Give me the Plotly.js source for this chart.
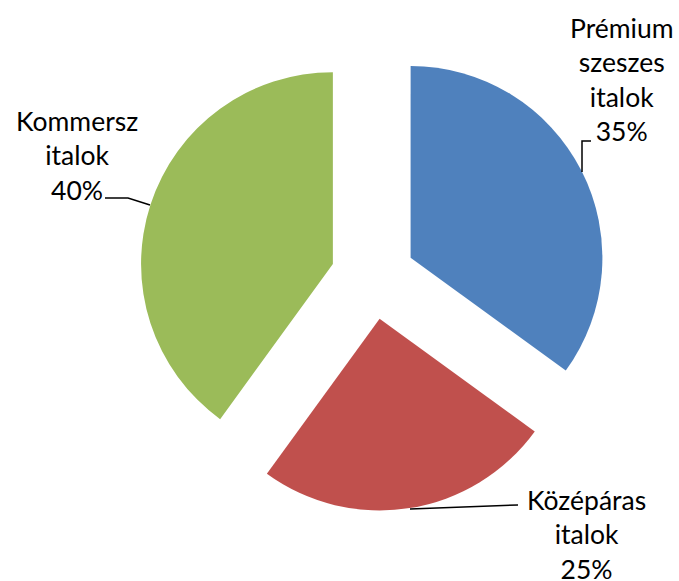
<!DOCTYPE html>
<html>
<head>
<meta charset="utf-8">
<script src="https://cdn.plot.ly/plotly-3.0.1.min.js"></script>
<style>html,body{margin:0;padding:0;background:#fff;}#chart{width:679px;height:581px;}</style>
</head>
<body>
<div id="chart"></div>
<script>
const labels = ["Prémium<br>szeszes<br>italok", "Középáras<br>italok", "Kommersz<br>italok"];
const values = [35, 25, 40];
const colors = ["#4F81BD", "#C0504D", "#9BBB59"];

const W = 679, H = 581;
const fx = x => x / W;
const fy = y => 1 - y / H;

// label block centres (pixels) and leader lines (pixels)
const labelPos = [[621, 79], [586, 534], [77, 155]];
const leaders = [
  [[582, 172], [582, 141], [591, 141]],
  [[410, 509], [518, 505]],
  [[105, 198], [128, 198], [150, 205]]
];

const total = values.reduce((a, b) => a + b, 0);
const annotations = labels.map((l, i) => ({
  text: l + "<br>" + Math.round(values[i] / total * 100) + "%",
  xref: "paper", yref: "paper",
  x: fx(labelPos[i][0]), y: fy(labelPos[i][1]),
  xanchor: "center", yanchor: "middle",
  showarrow: false, align: "center",
  font: {family: "Lato, 'Open Sans', sans-serif", size: 26.5, color: "#000"}
}));

const shapes = leaders.map(pts => ({
  type: "path", xref: "paper", yref: "paper",
  path: pts.map((p, j) => (j ? "L" : "M") + fx(p[0]) + "," + fy(p[1])).join(" "),
  line: {color: "#000", width: 1.5}
}));

const trace = {
  type: "pie",
  labels: labels,
  values: values,
  sort: false,
  direction: "clockwise",
  rotation: 0,
  pull: [0.22, 0.22, 0.22],
  marker: {colors: colors, line: {width: 0}},
  textinfo: "none",
  hoverinfo: "none",
  showlegend: false,
  domain: {x: [fx(139), fx(607)], y: [fy(511), fy(43)]}
};

Plotly.newPlot("chart", [trace], {
  width: W, height: H,
  margin: {l: 0, r: 0, t: 0, b: 0},
  paper_bgcolor: "#fff",
  showlegend: false,
  annotations: annotations,
  shapes: shapes
}, {staticPlot: true});
</script>
</body>
</html>
